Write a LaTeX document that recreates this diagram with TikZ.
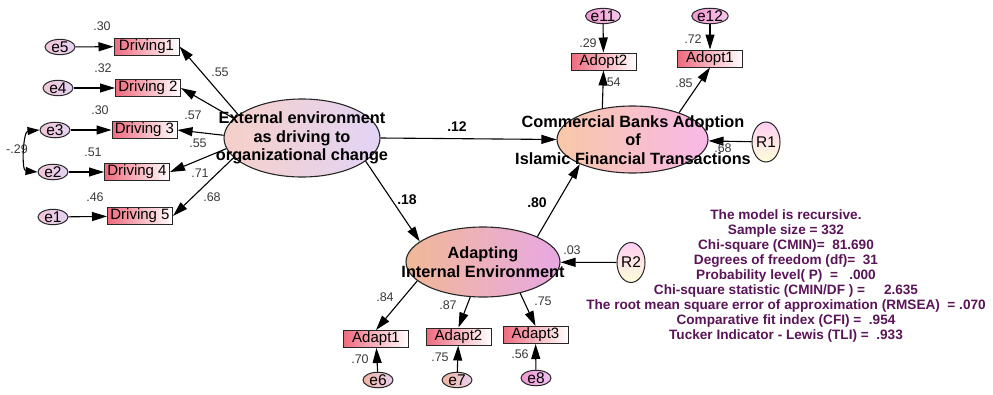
\documentclass[tikz,border=0pt]{standalone}
\usepackage{fontspec}
\setmainfont{Liberation Sans}
\usetikzlibrary{arrows.meta,shapes.geometric}
\definecolor{boxred}{HTML}{EE6A7E}
\definecolor{statc}{HTML}{5A1458}
\definecolor{lblc}{HTML}{3A3A3A}
\begin{document}
\begin{tikzpicture}[x=1pt,y=-1pt,
  arr/.style={draw=black, line width=1.1pt, -{Triangle[length=15pt,width=9pt]}},
  obs/.style={draw=black!85, line width=1pt, rectangle, minimum width=65pt, minimum height=17pt, inner sep=0pt,
    left color=boxred, right color=white, font=\fontsize{15}{15}\selectfont},
  err/.style={draw=black!85, line width=1pt, ellipse, minimum width=30pt, minimum height=15pt, inner sep=0pt,
    font=\fontsize{15.5}{15.5}\selectfont},
  lat/.style={draw=black!85, line width=1.1pt, ellipse, inner sep=0pt},
  res/.style={draw=black!85, line width=1pt, ellipse, minimum width=28pt, minimum height=40pt, inner sep=0pt,
    top color=pink!60!magenta!35, bottom color=yellow!15, font=\fontsize{15.5}{15.5}\selectfont},
  lattxt/.style={font=\bfseries\fontsize{16.3}{18.8}\selectfont, align=center, inner sep=0pt},
  lbl/.style={font=\fontsize{12.5}{12.5}\selectfont, text=lblc, inner sep=0pt},
  blbl/.style={font=\bfseries\fontsize{14}{14}\selectfont, inner sep=0pt},
  stat/.style={font=\bfseries\fontsize{13.6}{15.1}\selectfont, text=statc, align=center, inner sep=0pt}
]
\useasboundingbox (0,0) rectangle (993,394);

% latent variables
\node[lat, minimum width=156pt, minimum height=78pt, left color={rgb,255:red,246;green,208;blue,200}, right color={rgb,255:red,226;green,212;blue,246}] (ext) at (302,138) {};
\node[lattxt] (extT) at (302,138) {External environment\\as driving to\\organizational change};
\node[lat, minimum width=151pt, minimum height=67pt, left color={rgb,255:red,248;green,200;blue,168}, right color={rgb,255:red,248;green,184;blue,232}] (cba) at (632.5,139.5) {};
\node[lattxt] (cbaT) at (633,140) {Commercial Banks Adoption\\of\\Islamic Financial Transactions};
\node[lat, minimum width=154pt, minimum height=70pt, left color={rgb,255:red,240;green,184;blue,150}, right color={rgb,255:red,232;green,168;blue,228}] (adi) at (483,262) {};
\node[lattxt] (adiT) at (483,262.5) {Adapting\\Internal Environment};

% residuals
\node[res] (r1) at (766,142) {R1};
\node[res] (r2) at (631,262.5) {R2};

% observed: driving
\node[obs] (d1) at (146.5,46.5) {Driving1};
\node[obs] (d2) at (148,88) {Driving 2};
\node[obs] (d3) at (144.5,130) {Driving 3};
\node[obs] (d4) at (137,172) {Driving 4};
\node[obs] (d5) at (140,216) {Driving 5};
% observed: adopt
\node[obs] (ad2) at (603.5,61.5) {Adopt2};
\node[obs] (ad1) at (710,58.5) {Adopt1};
% observed: adapt
\node[obs] (a1) at (376,339) {Adapt1};
\node[obs] (a2) at (458.5,336.5) {Adapt2};
\node[obs] (a3) at (535.5,335) {Adapt3};

% errors
\node[err, left color={rgb,255:red,242;green,196;blue,216}, right color={rgb,255:red,226;green,212;blue,242}] (e5) at (60,47) {e5};
\node[err, left color={rgb,255:red,242;green,196;blue,216}, right color={rgb,255:red,226;green,212;blue,242}] (e4) at (58,88) {e4};
\node[err, left color={rgb,255:red,242;green,196;blue,216}, right color={rgb,255:red,226;green,212;blue,242}] (e3) at (55,130) {e3};
\node[err, left color={rgb,255:red,242;green,196;blue,216}, right color={rgb,255:red,226;green,212;blue,242}] (e2) at (53,172) {e2};
\node[err, left color={rgb,255:red,242;green,196;blue,216}, right color={rgb,255:red,226;green,212;blue,242}] (e1) at (53,217) {e1};
\node[err, left color={rgb,255:red,240;green,150;blue,208}, right color={rgb,255:red,246;green,200;blue,236}] (e11) at (603,16) {e11};
\node[err, left color={rgb,255:red,240;green,150;blue,208}, right color={rgb,255:red,246;green,200;blue,236}] (e12) at (710,16) {e12};
\node[err, left color={rgb,255:red,240;green,180;blue,160}, right color={rgb,255:red,232;green,210;blue,240}] (e6) at (378,380) {e6};
\node[err, left color={rgb,255:red,240;green,180;blue,160}, right color={rgb,255:red,232;green,210;blue,240}] (e7) at (457,380) {e7};
\node[err, left color={rgb,255:red,240;green,150;blue,208}, right color={rgb,255:red,236;green,196;blue,240}] (e8) at (536,378) {e8};

% error arrows
\draw[arr] (e5) -- (d1);
\draw[arr] (e4) -- (d2);
\draw[arr] (e3) -- (d3);
\draw[arr] (e2) -- (d4);
\draw[arr] (e1) -- (d5);
\draw[arr] (e11) -- (ad2);
\draw[arr] (e12) -- (ad1);
\draw[arr] (e6) -- (a1);
\draw[arr] (e7) -- (a2);
\draw[arr] (e8) -- (a3);
\draw[line width=1.1pt, {Triangle[length=12pt,width=8pt]}-{Triangle[length=12pt,width=8pt]}] (e3.west) to[out=185,in=175,looseness=1.0] (e2.west);

% loadings
\draw[arr] (ext.160) -- (d1.east);
\draw[arr] (ext.164) -- (d2.east);
\draw[arr] (ext.178) -- (d3.east);
\draw[arr] (ext.188) -- (d4.east);
\draw[arr] (ext.196) -- (d5.east);
\draw[arr] (cba.134) -- (ad2.south);
\draw[arr] (cba.30) -- (ad1.south);
\draw[arr] (adi.196) -- (a1.north);
\draw[arr] (adi.250) -- (a2.north);
\draw[arr] (adi.320) -- (a3.north);

% structural
\draw[arr] (ext.east) -- (cba.west);
\draw[arr] (ext.340) -- (adi.162);
\draw[arr] (adi.25) -- (cba.205);
\draw[arr] (r1) -- (cba);
\draw[arr] (r2) -- (adi);

% labels
\node[lbl] (l1) at (102,26) {.30};
\node[lbl] (l2) at (103,68) {.32};
\node[lbl] (l3) at (100,110) {.30};
\node[lbl] (l4) at (93,152) {.51};
\node[lbl] (l5) at (95,197) {.46};
\node[lbl] (l6) at (17,149) {-.29};
\node[lbl] (l7) at (220,72) {.55};
\node[lbl] (l8) at (193,115) {.57};
\node[lbl] (l9) at (198,143) {.55};
\node[lbl] (l10) at (200,173) {.71};
\node[lbl] (l11) at (212,197) {.68};
\node[blbl] (l12) at (457,127) {.12};
\node[blbl] (l13) at (407,200) {.18};
\node[blbl] (l14) at (537,203) {.80};
\node[lbl] (l15) at (588,43) {.29};
\node[lbl] (l16) at (693,39) {.72};
\node[lbl] (l17) at (612,82) {.54};
\node[lbl] (l18) at (684,83) {.85};
\node[lbl] (l19) at (723,148) {.68};
\node[lbl] (l20) at (572,250) {.03};
\node[lbl] (l21) at (385,297) {.84};
\node[lbl] (l22) at (448,305) {.87};
\node[lbl] (l23) at (543,301) {.75};
\node[lbl] (l24) at (360,359) {.70};
\node[lbl] (l25) at (440,357) {.75};
\node[lbl] (l26) at (520,354) {.56};

% statistics
\node[stat, anchor=north] (stats) at (786,209) {The model is recursive.\\
Sample size = 332\\
Chi-square (CMIN)=\ \ 81.690\\
Degrees of freedom (df)=\ \ 31\\
Probability level( P)\ \ =\ \ \ .000\\
Chi-square statistic (CMIN/DF ) =\ \ \ \ \ 2.635\\
The root mean square error of approximation (RMSEA)\ \ = .070\\
Comparative fit index (CFI) =\ \ .954\\
Tucker Indicator - Lewis (TLI) =\ \ .933};
\end{tikzpicture}
\end{document}
